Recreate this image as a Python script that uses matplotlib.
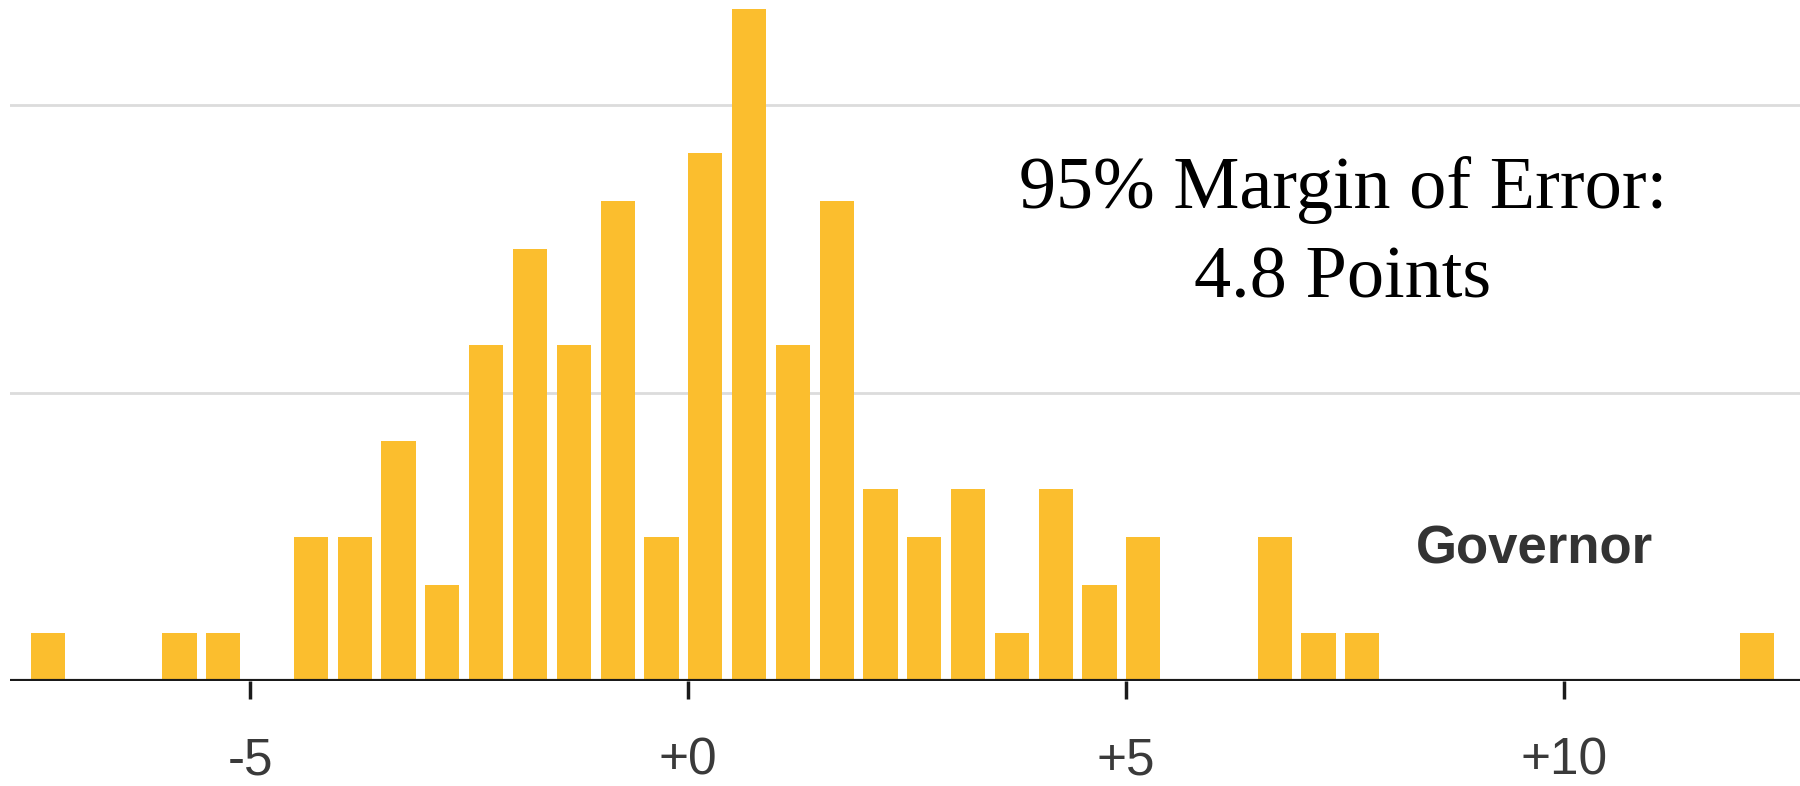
import numpy as np
import matplotlib
matplotlib.use('Agg')
from matplotlib import pyplot as plt

#%% data - bin start (points) and count per bin
bin_start = [-7.5, -6.0, -5.5, -4.5, -4.0, -3.5, -3.0, -2.5, -2.0, -1.5, -1.0, -0.5,
             0.0, 0.5, 1.0, 1.5, 2.0, 2.5, 3.0, 3.5, 4.0, 4.5, 5.0, 6.5, 7.0, 7.5, 12.0]
counts = [1, 1, 1, 3, 3, 5, 2, 7, 9, 7, 10, 3,
          11, 14, 7, 10, 4, 3, 4, 1, 4, 2, 3, 3, 1, 1, 1]
tick_vals = [-5, 0, 5, 10]
tick_labels = ['-5', '+0', '+5', '+10']
grid_vals = [6, 12]

#%% figure
fig = plt.figure(figsize=(18, 7.86), dpi=100)
ax = fig.add_axes([10/1800, 105/786, 1790/1800, 681/786])

bar_color = '#FBBE2E'
ax.bar(bin_start, counts, width=0.39, align='edge', color=bar_color, zorder=3)

for g in grid_vals:
    ax.axhline(g, color='#dcdcdc', lw=2, zorder=1)
ax.axhline(0, color='#1a1a1a', lw=3, zorder=4)

ax.set_xlim(-7.74, 12.69)
ax.set_ylim(0, 14.19)
for s in ax.spines.values():
    s.set_visible(False)
ax.set_yticks([])
ax.set_xticks(tick_vals)
ax.set_xticklabels(tick_labels, fontsize=37, color='#3a3a3a', family='Liberation Sans')
ax.tick_params(axis='x', length=13, width=2.5, color='#1a1a1a', pad=27)

fig.text(1343/1800, 1 - 208/786, '95% Margin of Error:', ha='center', va='baseline',
         fontsize=53.5, family='Liberation Serif', color='black')
fig.text(1343/1800, 1 - 297/786, '4.8 Points', ha='center', va='baseline',
         fontsize=53.5, family='Liberation Serif', color='black')
fig.text(1534/1800, 1 - 563/786, 'Governor', ha='center', va='baseline',
         fontsize=38, fontweight='bold', family='Liberation Sans', color='#333333')

fig.savefig('out.png', dpi=100)
